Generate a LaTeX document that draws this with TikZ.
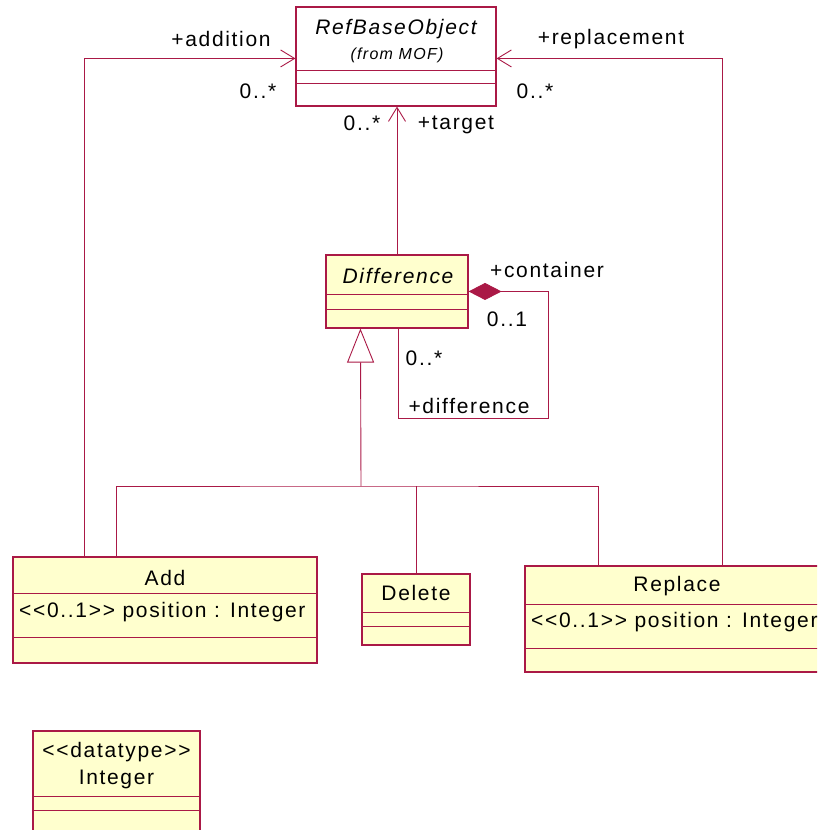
\documentclass[tikz,border=0pt]{standalone}
\usepackage{fontspec}
\setmainfont{Liberation Sans}[LetterSpace=8]
\usetikzlibrary{arrows.meta,calc}
\definecolor{umlred}{RGB}{170,25,70}
\definecolor{umlfill}{RGB}{255,255,206}
\begin{document}
\begin{tikzpicture}[x=1pt,y=-1pt,
  cls/.style={draw=umlred,line width=1.1pt,fill=umlfill,rectangle,inner sep=0pt},
  refcls/.style={cls,fill=white},
  sep/.style={draw=umlred,line width=0.9pt},
  txt/.style={inner sep=0pt,font=\fontsize{21}{25}\selectfont},
  ital/.style={txt,font=\fontsize{21}{25}\selectfont\itshape},
  small/.style={txt,font=\fontsize{16}{19}\selectfont\itshape},
  conn/.style={draw=umlred,line width=0.9pt},
  nav/.style={conn,-{Straight Barb[length=14pt,width=17pt,line width=0.9pt]}},
  gen/.style={conn,-{Triangle[length=34pt,width=27pt,fill=white,line width=0.9pt]}},
  comp/.style={conn,{Diamond[length=33pt,width=17pt,fill=umlred,line width=0.9pt]}-}
]
\useasboundingbox (0,0) rectangle (817,830);
\clip (0,0) rectangle (817,830);

% RefBaseObject
\node[refcls,minimum width=200pt,minimum height=99pt] (ref) at (396,56.5) {};
\draw[sep] (296,70) -- (496,70);
\draw[sep] (296,83) -- (496,83);
\node[ital] (refname) at (396,29) {RefBaseObject};
\node[small] (refmof) at (397,55) {(from MOF)};

% Difference
\node[cls,minimum width=142pt,minimum height=73pt] (diff) at (397,291.5) {};
\draw[sep] (326,294) -- (468,294);
\draw[sep] (326,309) -- (468,309);
\node[ital] (diffname) at (398,276) {Difference};

% Add
\node[cls,minimum width=304pt,minimum height=106pt] (add) at (165,610) {};
\draw[sep] (13,593) -- (317,593);
\draw[sep] (13,637) -- (317,637);
\node[txt] (addname) at (165,578) {Add};
\node[txt,anchor=west] (addattr) at (19,612) {<{}<0..1>{}> position : Integer};

% Delete
\node[cls,minimum width=108pt,minimum height=71pt] (del) at (416,609.5) {};
\draw[sep] (362,612) -- (470,612);
\draw[sep] (362,626) -- (470,626);
\node[txt] (delname) at (416,593) {Delete};

% Replace
\node[cls,minimum width=304pt,minimum height=106pt] (rep) at (677,619) {};
\draw[sep] (525,604) -- (829,604);
\draw[sep] (525,648) -- (829,648);
\node[txt] (repname) at (677,586) {Replace};
\node[txt,anchor=west] (repattr) at (531,622) {<{}<0..1>{}> position : Integer};

% Integer
\node[cls,minimum width=167pt,minimum height=110pt] (int) at (116.5,786) {};
\draw[sep] (33,796) -- (200,796);
\draw[sep] (33,810) -- (200,810);
\node[txt] (intst) at (116.5,752) {<{}<datatype>{}>};
\node[txt] (intname) at (116.5,779) {Integer};

% associations to RefBaseObject
\draw[nav] ([xshift=72pt]add.north west) |- ([yshift=-52pt]ref.north west);
\node[txt] (laddition) at (221,39) {+addition};
\node[txt] (maddition) at (258,91) {0..*};

\draw[nav] ([xshift=198pt]rep.north west) |- ([yshift=-52pt]ref.north east);
\node[txt] (lreplacement) at (611,39) {+replacement};
\node[txt] (mreplacement) at (535,91) {0..*};

\draw[nav] (diff.north) -- (diff.north |- ref.south);
\node[txt] (mtarget) at (362,123) {0..*};
\node[txt] (ltarget) at (456,125) {+target};

% composition self-association
\coordinate (c1) at (548,418);
\draw[comp] ([yshift=-37pt]diff.north east) -| (c1) -| ([xshift=73pt]diff.south west);
\node[txt] (lcontainer) at (547,270) {+container};
\node[txt] (mcontainer) at (507,319) {0..1};
\node[txt] (mdifference) at (424,358) {0..*};
\node[txt] (ldifference) at (469,406) {+difference};

% generalization
\coordinate (j) at (361,486);
\draw[gen] (j) -- ([xshift=35pt]diff.south west);
\draw[conn] ([xshift=104pt]add.north west) |- (j) -| ([xshift=74pt]rep.north west);
\draw[conn] (del.north) -- (del.north |- j);
\end{tikzpicture}
\end{document}
